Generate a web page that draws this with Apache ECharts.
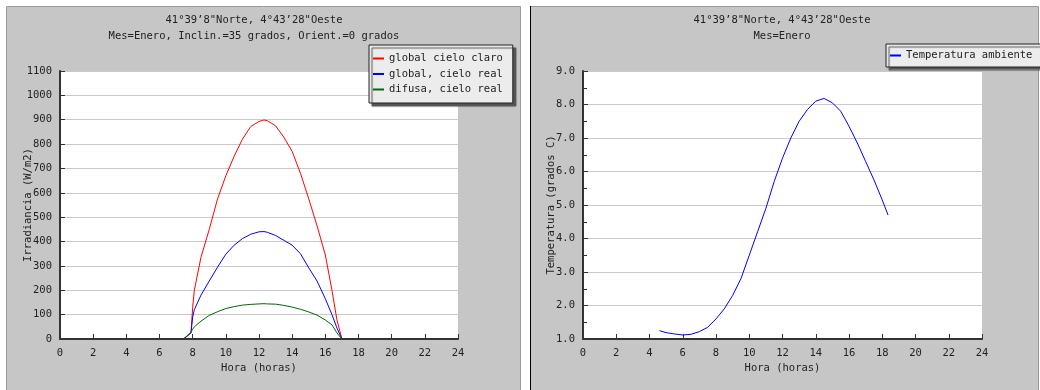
<!DOCTYPE html>
<html><head><meta charset="utf-8">
<script src="https://cdn.jsdelivr.net/npm/echarts@6/dist/echarts.min.js"></script>
<style>html,body{margin:0;padding:0;background:#fff}#c{width:1040px;height:390px}</style>
</head><body><div id="c"></div>
<script>
// ---- data ----
var titleLine1 = '41°39’8"Norte, 4°43’28"Oeste';
var titleLeft2 = 'Mes=Enero, Inclin.=35 grados, Orient.=0 grados';
var titleRight2 = 'Mes=Enero';
var irrNames = ['global cielo claro', 'global, cielo real', 'difusa, cielo real'];
var irrHours = [7.45, 7.9, 8.0, 8.1, 8.5, 9.0, 9.5, 10.0, 10.5, 11.0, 11.5, 12.0, 12.3, 12.5, 13.0, 13.5, 14.0, 14.5, 15.0, 15.5, 16.0, 16.4, 16.7, 17.0];
var clearSky = [0, 25, 130, 200, 335, 450, 575, 670, 750, 820, 872, 893, 899, 896, 875, 828, 770, 680, 575, 465, 345, 200, 78, 0];
var realSky  = [0, 25, 90, 120, 180, 238, 295, 348, 385, 412, 430, 440, 441, 438, 425, 405, 385, 350, 292, 238, 165, 100, 45, 0];
var diffuse  = [0, 28, 40, 50, 73, 97, 112, 125, 133, 139, 142, 144, 145, 144, 143, 138, 131, 122, 111, 98, 78, 58, 25, 0];
var tempName = 'Temperatura ambiente';
var tempHours = [4.6, 5.0, 5.5, 6.0, 6.5, 7.0, 7.5, 8.0, 8.5, 9.0, 9.5, 10.0, 10.5, 11.0, 11.5, 12.0, 12.5, 13.0, 13.5, 14.0, 14.5, 15.0, 15.5, 16.0, 16.5, 17.0, 17.5, 18.0, 18.35];
var tempVals  = [1.25, 1.19, 1.15, 1.12, 1.14, 1.22, 1.35, 1.6, 1.9, 2.3, 2.8, 3.5, 4.2, 4.9, 5.7, 6.4, 7.0, 7.5, 7.85, 8.1, 8.18, 8.05, 7.8, 7.35, 6.85, 6.3, 5.75, 5.15, 4.7];

function pairs(xs, ys) { return xs.map(function (x, i) { return [x, ys[i]]; }); }

var FONT = 'DejaVu Sans Mono';
var FS = 10.5;
var TXT = '#222';
var chart = echarts.init(document.getElementById('c'), null, {renderer: 'canvas'});

function xAxisCfg(gi) {
  return {
    gridIndex: gi, type: 'value', min: 0, max: 24, interval: 2,
    name: 'Hora (horas)', nameLocation: 'middle', nameGap: 24, nameMoveOverlap: false,
    nameTextStyle: {fontFamily: FONT, fontSize: FS, color: TXT},
    axisLine: {show: true, onZero: false, lineStyle: {color: '#333', width: 2}},
    axisTick: {show: true, inside: true, length: 5, lineStyle: {color: '#333', width: 1}},
    axisLabel: {fontFamily: FONT, fontSize: FS, color: TXT, margin: 9, formatter: function (v) { return String(v); }},
    splitLine: {show: false}
  };
}
function yAxisCfg(gi, min, max, interval, name, gap, fmt, minor) {
  return {
    gridIndex: gi, type: 'value', min: min, max: max, interval: interval,
    name: name, nameLocation: 'middle', nameGap: gap, nameMoveOverlap: false,
    nameTextStyle: {fontFamily: FONT, fontSize: FS, color: TXT},
    axisLine: {show: true, onZero: false, lineStyle: {color: '#333', width: 2}},
    axisTick: {show: true, inside: true, length: 5, lineStyle: {color: '#333', width: 1}},
    minorTick: {show: !!minor, splitNumber: 2, length: 4, lineStyle: {color: '#333', width: 1}},
    axisLabel: {fontFamily: FONT, fontSize: FS, color: TXT, margin: 8, formatter: fmt},
    splitLine: {show: true, lineStyle: {color: '#cacaca', width: 1}}
  };
}
var legendBase = {
  orient: 'vertical', align: 'left', icon: 'rect', itemWidth: 11, itemHeight: 2,
  backgroundColor: '#ececec', borderColor: '#222', borderWidth: 1,
  shadowColor: '#555', shadowOffsetX: 3, shadowOffsetY: 3, shadowBlur: 1,
  textStyle: {fontFamily: FONT, fontSize: FS, color: TXT, lineHeight: 13}
};
function titleText(x, y, s) {
  return {type: 'text', x: x, y: y, style: {text: s, font: FS + 'px "' + FONT + '"', fill: TXT, align: 'center', textAlign: 'center', verticalAlign: 'middle', textVerticalAlign: 'middle'}};
}

var option = {
  backgroundColor: '#ffffff',
  animation: false,
  graphic: [
    {type: 'rect', z: -100, shape: {x: 6.5, y: 6.5, width: 514, height: 400}, style: {fill: '#c6c6c6', stroke: '#9a9a9a', lineWidth: 1}},
    {type: 'rect', z: -100, shape: {x: 530.5, y: 6.5, width: 508, height: 400}, style: {fill: '#c6c6c6', stroke: '#9a9a9a', lineWidth: 1}},
    {type: 'line', z: -99, shape: {x1: 530.5, y1: 6, x2: 530.5, y2: 390}, style: {stroke: '#000', lineWidth: 1}},
    titleText(254, 20, titleLine1),
    titleText(254, 36, titleLeft2),
    titleText(782, 20, titleLine1),
    titleText(782, 36, titleRight2)
  ],
  legend: [
    Object.assign({}, legendBase, {left: 369, top: 45, itemGap: 2.5, padding: [7, 10, 7, 4], data: irrNames}),
    Object.assign({}, legendBase, {left: 886, top: 44, itemGap: 2, padding: [5, 10, 5, 4], data: [tempName]})
  ],
  grid: [
    {left: 60, top: 71, width: 398, height: 268, show: true, backgroundColor: '#ffffff', borderWidth: 0},
    {left: 583, top: 71, width: 399, height: 268, show: true, backgroundColor: '#ffffff', borderWidth: 0}
  ],
  xAxis: [xAxisCfg(0), xAxisCfg(1)],
  yAxis: [
    yAxisCfg(0, 0, 1100, 100, 'Irradiancia (W/m2)', 26, function (v) { return String(v); }, false),
    yAxisCfg(1, 1, 9, 1, 'Temperatura (grados C)', 26, function (v) { return v.toFixed(1); }, true)
  ],
  series: [
    {name: irrNames[0], type: 'line', xAxisIndex: 0, yAxisIndex: 0, data: pairs(irrHours, clearSky), showSymbol: false, color: '#ff0000', lineStyle: {width: 1}},
    {name: irrNames[1], type: 'line', xAxisIndex: 0, yAxisIndex: 0, data: pairs(irrHours, realSky), showSymbol: false, color: '#0000ff', lineStyle: {width: 1}},
    {name: irrNames[2], type: 'line', xAxisIndex: 0, yAxisIndex: 0, data: pairs(irrHours, diffuse), showSymbol: false, color: '#006a00', lineStyle: {width: 1}},
    {name: tempName, type: 'line', xAxisIndex: 1, yAxisIndex: 1, data: pairs(tempHours, tempVals), showSymbol: false, color: '#0000ff', lineStyle: {width: 1}}
  ]
};
chart.setOption(option);
</script>
</body></html>
